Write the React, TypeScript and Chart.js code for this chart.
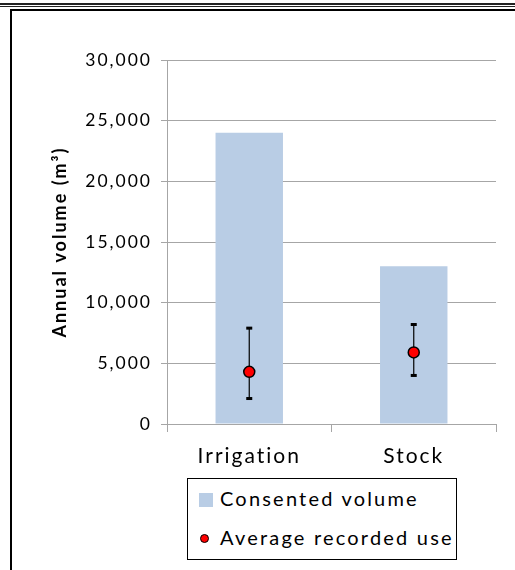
import React, { useEffect, useRef } from "react";
import { Chart, registerables } from "chart.js";

Chart.register(...registerables);

const categories = ["Irrigation", "Stock"];
const consentedVolume = [24000, 13000];
const averageUse = [4300, 5900];
const useLow = [2100, 4000];
const useHigh = [7900, 8200];
const yMin = 0;
const yMax = 30000;
const yStep = 5000;

const FONT = "Lato";
const SPACING = "2px";
const BAR_COLOR = "#b9cde5";
const GRID = "#a6a6a6";

const spacingPlugin = {
  id: "spacing",
  beforeLayout(chart: any) {
    chart.ctx.letterSpacing = SPACING;
  },
  beforeDraw(chart: any) {
    chart.ctx.letterSpacing = SPACING;
  },
};

const errorBarPlugin = {
  id: "errorBars",
  beforeDatasetDraw(chart: any, args: any) {
    if (args.index !== 1) return;
    const meta = chart.getDatasetMeta(1);
    const y = chart.scales.y;
    const ctx = chart.ctx;
    ctx.save();
    ctx.strokeStyle = "#000";
    ctx.fillStyle = "#000";
    ctx.lineWidth = 1.2;
    meta.data.forEach((pt: any, i: number) => {
      const x = pt.x;
      const yh = y.getPixelForValue(useHigh[i]);
      const yl = y.getPixelForValue(useLow[i]);
      ctx.beginPath();
      ctx.moveTo(x, yh);
      ctx.lineTo(x, yl);
      ctx.stroke();
      ctx.fillRect(x - 3, yh - 1.5, 6, 3);
      ctx.fillRect(x - 3, yl - 1.5, 6, 3);
    });
    ctx.restore();
  },
};

function ChartBox() {
  const ref = useRef<HTMLCanvasElement>(null);
  useEffect(() => {
    if (!ref.current) return;
    const chart = new Chart(ref.current, {
      type: "bar",
      data: {
        labels: categories,
        datasets: [
          {
            type: "bar",
            label: "Consented volume",
            data: consentedVolume,
            backgroundColor: BAR_COLOR,
            borderWidth: 0,
            categoryPercentage: 1,
            barPercentage: 0.41,
            order: 2,
          },
          {
            type: "line",
            label: "Average recorded use",
            data: averageUse,
            showLine: false,
            pointRadius: 5.5,
            pointBackgroundColor: "#ff0000",
            pointBorderColor: "#000",
            pointBorderWidth: 1.5,
            order: 1,
          } as any,
        ],
      },
      options: {
        responsive: false,
        animation: false,
        devicePixelRatio: 1,
        layout: { padding: { left: 45, right: 19, top: 60, bottom: 96 } },
        plugins: {
          legend: { display: false },
          tooltip: { enabled: false },
        },
        scales: {
          x: {
            offset: true,
            grid: {
              offset: true,
              drawOnChartArea: false,
              drawTicks: true,
              tickLength: 8,
              color: GRID,
            },
            border: { color: GRID },
            ticks: {
              color: "#000",
              font: { family: FONT, size: 21 },
              padding: 12,
            },
            afterFit: (s: any) => {
              s.height = 50;
            },
          },
          y: {
            min: yMin,
            max: yMax,
            ticks: {
              stepSize: yStep,
              color: "#000",
              font: { family: FONT, size: 17.5 },
              padding: 9,
              callback: (v: any) => Number(v).toLocaleString("en-US"),
            },
            grid: { color: GRID, tickLength: 6 },
            border: { color: GRID },
            title: {
              display: true,
              text: "Annual volume (m³)",
              color: "#000",
              font: { family: FONT, size: 18, weight: "bold" },
              padding: { top: 4, bottom: 0 },
            },
            afterFit: (s: any) => {
              s.width = 122;
            },
          },
        },
      },
      plugins: [spacingPlugin, errorBarPlugin],
    });
    return () => chart.destroy();
  }, []);
  return <canvas ref={ref} width={515} height={570} style={{ position: "absolute", left: 0, top: 0 }} />;
}

export default function App() {
  const textStyle: React.CSSProperties = {
    fontFamily: FONT,
    fontSize: 20,
    letterSpacing: "2.2px",
    color: "#000",
    whiteSpace: "nowrap",
  };
  return (
    <div style={{ position: "absolute", left: 0, top: 0, width: 515, height: 570, overflow: "hidden", background: "#fff" }}>
      <div style={{ position: "absolute", left: 0, top: 3, width: 515, height: 2, background: "#222" }} />
      <div style={{ position: "absolute", left: 0, top: 6, width: 515, height: 1, background: "#222" }} />
      <div style={{ position: "absolute", left: 10, top: 9, width: 600, height: 700, borderLeft: "2px solid #000", borderTop: "2px solid #000" }} />
      <ChartBox />
      <div
        style={{
          position: "absolute",
          left: 187,
          top: 478,
          width: 268,
          height: 80,
          border: "1.5px solid #000",
          background: "#fff",
        }}
      >
        <div style={{ position: "absolute", left: 11, top: 14, width: 14, height: 14, background: BAR_COLOR }} />
        <div style={{ ...textStyle, position: "absolute", left: 32, top: 6, lineHeight: "26px" }}>Consented volume</div>
        <div
          style={{
            position: "absolute",
            left: 12,
            top: 55,
            width: 7,
            height: 7,
            borderRadius: "50%",
            background: "#ff0000",
            border: "1.5px solid #000",
          }}
        />
        <div style={{ ...textStyle, position: "absolute", left: 32, top: 45, lineHeight: "26px" }}>Average recorded use</div>
      </div>
    </div>
  );
}
